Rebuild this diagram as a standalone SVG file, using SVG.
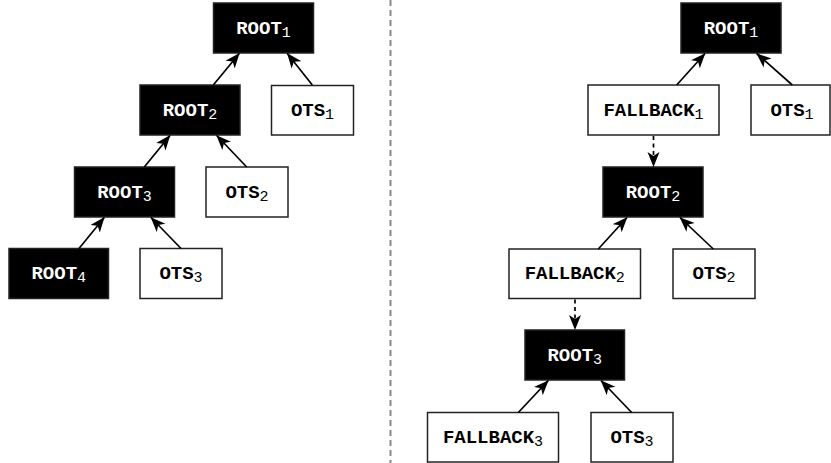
<svg xmlns="http://www.w3.org/2000/svg" width="831" height="463" viewBox="0 0 831 463">
  <defs>
    <marker id="head" markerUnits="userSpaceOnUse" markerWidth="15" markerHeight="13" viewBox="0 0 15 13" refX="14.5" refY="6.5" orient="auto">
      <path d="M0,0.5 L15,6.5 L0,12.5 L4,6.5 z" fill="#000"/>
    </marker>
    <style>
      .root rect { fill: #000; stroke: #222; stroke-width: 1.5; }
      .leaf rect { fill: #fff; stroke: #222; stroke-width: 1.5; }
      text { font-family: "Liberation Mono", "Courier New", monospace; font-weight: bold; font-size: 19px; text-anchor: middle; }
      .root text { fill: #fff; }
      .leaf text { fill: #000; }
      tspan.sub { font-size: 15px; font-weight: normal; }
      .edge { stroke: #000; stroke-width: 1.7; fill: none; marker-end: url(#head); }
      .dashed { stroke-dasharray: 4 3.5; }
      .divider { stroke: #888; stroke-width: 2; stroke-dasharray: 6 4; }
    </style>
  </defs>

  <!-- vertical separator between the two trees -->
  <line class="divider" x1="390.5" y1="0" x2="390.5" y2="463"/>

  <!-- left tree -->
  <g id="l-root1" class="root"><rect x="213.5" y="3" width="100" height="50"/><text x="263.5" y="33.5">ROOT<tspan class="sub" dy="3">1</tspan></text></g>
  <g id="l-root2" class="root"><rect x="140" y="85" width="100" height="50"/><text x="190" y="115.5">ROOT<tspan class="sub" dy="3">2</tspan></text></g>
  <g id="l-ots1" class="leaf"><rect x="271.5" y="85.5" width="82" height="49.5"/><text x="312.5" y="115.5">OTS<tspan class="sub" dy="3">1</tspan></text></g>
  <g id="l-root3" class="root"><rect x="74.5" y="167" width="100" height="50"/><text x="124.5" y="197.5">ROOT<tspan class="sub" dy="3">3</tspan></text></g>
  <g id="l-ots2" class="leaf"><rect x="206" y="167" width="82" height="50"/><text x="247" y="197.5">OTS<tspan class="sub" dy="3">2</tspan></text></g>
  <g id="l-root4" class="root"><rect x="9" y="248.5" width="99.5" height="50"/><text x="58.75" y="279">ROOT<tspan class="sub" dy="3">4</tspan></text></g>
  <g id="l-ots3" class="leaf"><rect x="140" y="248.5" width="82" height="50"/><text x="181" y="279">OTS<tspan class="sub" dy="3">3</tspan></text></g>

  <!-- right tree -->
  <g id="r-root1" class="root"><rect x="681" y="3" width="100" height="50"/><text x="731" y="33.5">ROOT<tspan class="sub" dy="3">1</tspan></text></g>
  <g id="r-fallback1" class="leaf"><rect x="588" y="85" width="131" height="50"/><text x="653.5" y="115.5">FALLBACK<tspan class="sub" dy="3">1</tspan></text></g>
  <g id="r-ots1" class="leaf"><rect x="751" y="85" width="79" height="50"/><text x="792" y="115.5">OTS<tspan class="sub" dy="3">1</tspan></text></g>
  <g id="r-root2" class="root"><rect x="603" y="167" width="100" height="50"/><text x="653" y="197.5">ROOT<tspan class="sub" dy="3">2</tspan></text></g>
  <g id="r-fallback2" class="leaf"><rect x="509" y="249" width="131.5" height="49.5"/><text x="574.75" y="279">FALLBACK<tspan class="sub" dy="3">2</tspan></text></g>
  <g id="r-ots2" class="leaf"><rect x="673" y="249" width="82" height="49.5"/><text x="714" y="279">OTS<tspan class="sub" dy="3">2</tspan></text></g>
  <g id="r-root3" class="root"><rect x="525" y="330" width="99.5" height="50"/><text x="574.75" y="360.5">ROOT<tspan class="sub" dy="3">3</tspan></text></g>
  <g id="r-fallback3" class="leaf"><rect x="427.5" y="412.5" width="131" height="49.5"/><text x="493" y="442.5">FALLBACK<tspan class="sub" dy="3">3</tspan></text></g>
  <g id="r-ots3" class="leaf"><rect x="591" y="412.5" width="82" height="49.5"/><text x="632" y="442.5">OTS<tspan class="sub" dy="3">3</tspan></text></g>

  <!-- connectors -->
  <g id="connectors">
    <line class="edge" x1="213.3" y1="85" x2="239.3" y2="53.5"/>
    <line class="edge" x1="312.3" y1="85" x2="287.3" y2="53.5"/>
    <line class="edge" x1="144.3" y1="167" x2="170" y2="135.5"/>
    <line class="edge" x1="246.7" y1="167" x2="216.7" y2="135.5"/>
    <line class="edge" x1="79" y1="248.5" x2="104.3" y2="217.5"/>
    <line class="edge" x1="181" y1="248.5" x2="151" y2="217.5"/>

    <line class="edge" x1="676.7" y1="85" x2="705" y2="53.5"/>
    <line class="edge" x1="792.3" y1="85" x2="756.7" y2="53.5"/>
    <line class="edge dashed" x1="653.5" y1="136" x2="653.5" y2="166.5"/>
    <line class="edge" x1="598.3" y1="249" x2="627" y2="217.5"/>
    <line class="edge" x1="713.3" y1="249" x2="680" y2="217.5"/>
    <line class="edge dashed" x1="575" y1="299.5" x2="575" y2="329.5"/>
    <line class="edge" x1="518.3" y1="412.5" x2="548.3" y2="380.5"/>
    <line class="edge" x1="631.7" y1="412.5" x2="601" y2="380.5"/>
  </g>
</svg>
